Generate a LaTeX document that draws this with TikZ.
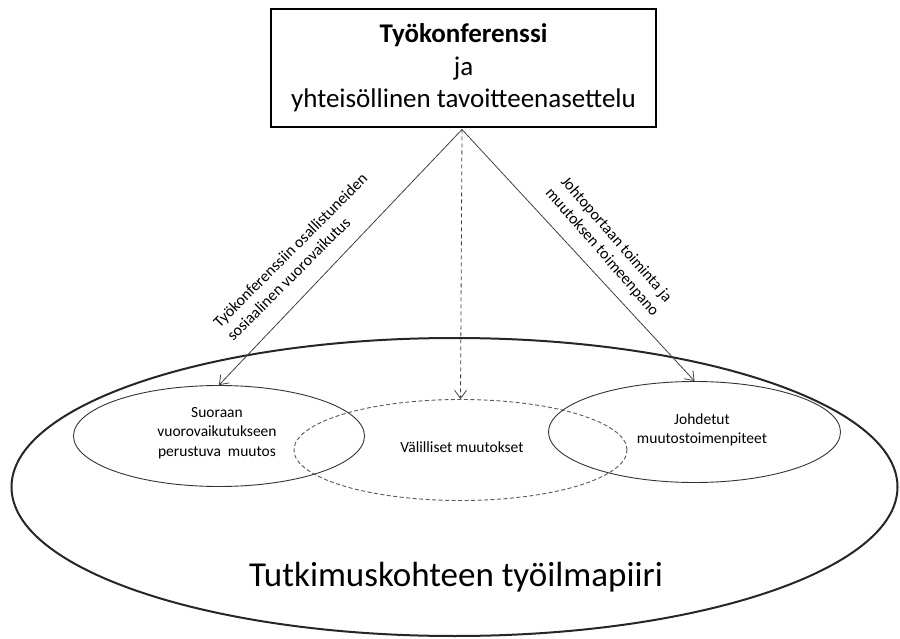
\documentclass[tikz,border=0pt]{standalone}
\usepackage{fontspec}
\setmainfont{Carlito}
\usetikzlibrary{arrows.meta,shapes.geometric}
\begin{document}
\begin{tikzpicture}[x=1pt,y=-1pt,
  oval/.style={draw=black!80, line width=0.9pt, ellipse, inner sep=0pt},
  conn/.style={draw=black!75, line width=0.8pt, -{Straight Barb[length=8pt,width=12pt]}},
  intext/.style={font=\fontsize{15.5}{19.5}\selectfont, align=center, inner sep=0pt},
  armlabel/.style={font=\fontsize{16}{19}\selectfont, inner sep=0pt},
]
\useasboundingbox (0,0) rectangle (900,639);
% outer climate ellipse
\node[draw=black!85, line width=2pt, ellipse, inner sep=0pt,
      minimum width=886pt, minimum height=298pt] (world) at (454.5,487) {};
\node[font=\fontsize{35}{40}\selectfont, inner sep=0pt] (worldlbl) at (456,577) {Tutkimuskohteen työilmapiiri};
% inner ellipses
\node[oval, minimum width=291pt, minimum height=101pt] (direct) at (219,436) {};
\node[intext] (directlbl) at (217,433) {Suoraan\\vuorovaikutukseen\\perustuva\ \ muutos};
\node[draw=black!65, line width=0.9pt, dash pattern=on 4pt off 2.5pt, ellipse, inner sep=0pt,
      minimum width=333pt, minimum height=101pt] (indirect) at (460.5,450) {};
\node[intext] (indirectlbl) at (462,447) {Välilliset muutokset};
\node[oval, minimum width=292pt, minimum height=101pt] (led) at (694.5,432) {};
\node[intext] (ledlbl) at (702,430) {Johdetut\\muutostoimenpiteet};
% conference box
\node[draw=black, line width=2.6pt, minimum width=385pt, minimum height=118pt, inner sep=0pt] (conf) at (463.5,68) {};
\node[font=\fontsize{27}{32.5}\selectfont, align=center, inner sep=0pt] (conflbl) at (463.5,68)
  {\textbf{Työkonferenssi}\\ja\\yhteisöllinen tavoitteenasettelu};
\coordinate (apex) at (462,129.5);
% connectors
\draw[conn] (apex) -- (direct.north);
\draw[conn] (apex) -- (led.north);
\draw[conn, dash pattern=on 4pt off 3pt] (apex) -- (indirect.north);
% connector labels
\node[armlabel, rotate=45, align=left] (leftarm) at (297,257)
  {Työkonferenssiin osallistuneiden\\sosiaalinen vuorovaikutus};
\node[armlabel, rotate=-49, align=center] (rightarm) at (609,246)
  {Johtoportaan toiminta ja\\muutoksen toimeenpano};
\end{tikzpicture}
\end{document}
